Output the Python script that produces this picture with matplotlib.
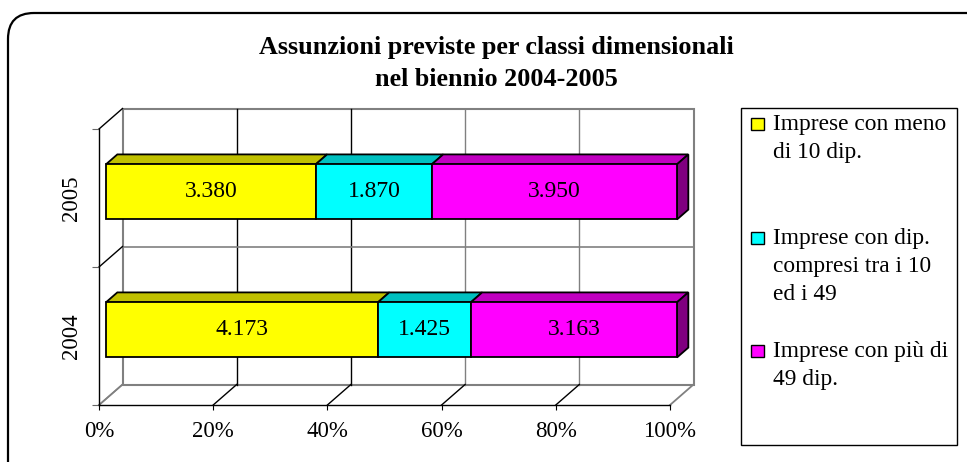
import matplotlib
matplotlib.use('Agg')
import matplotlib.pyplot as plt
from matplotlib.patches import Polygon, Rectangle, FancyBboxPatch
from matplotlib.lines import Line2D
from matplotlib.transforms import Affine2D, IdentityTransform
import numpy as np

# ---------------- data ----------------
years = ['2004', '2005']
small = [4173, 3380]     # Imprese con meno di 10 dip.
medium = [1425, 1870]    # Imprese con dip. compresi tra i 10 ed i 49
large = [3163, 3950]     # Imprese con più di 49 dip.
series = [small, medium, large]
series_labels = ["Imprese con meno\ndi 10 dip.",
                 "Imprese con dip.\ncompresi tra i 10\ned i 49",
                 "Imprese con più di\n49 dip."]
xticks = [0, 20, 40, 60, 80, 100]
xticklabels = ['0%', '20%', '40%', '60%', '80%', '100%']
title_lines = ["Assunzioni previste per classi dimensionali",
               "nel biennio 2004-2005"]

# ---------------- style ----------------
front_colors = ['#FFFF00', '#00FFFF', '#FF00FF']
top_colors = ['#C0C000', '#00C0C0', '#C000C0']
side_colors = ['#808000', '#008080', '#800080']
FONT = 'Liberation Serif'
plt.rcParams['font.family'] = [FONT, 'DejaVu Serif']

W, H = 967, 462
fig = plt.figure(figsize=(W / 100, H / 100), dpi=100)
fig.patch.set_facecolor('white')


def fx(px):
    return px / W


def fy(py):
    return 1 - py / H


ax = fig.add_axes([fx(99), fy(405), (670 - 99) / W, (405 - 129) / H])
ax.set_xlim(0, 100)
ax.set_ylim(-0.5, 1.5)
ax.patch.set_visible(False)
for s in ['top', 'right']:
    ax.spines[s].set_visible(False)
for s in ['left', 'bottom']:
    ax.spines[s].set_color('black')
    ax.spines[s].set_linewidth(1.0)

ax.set_xticks(xticks)
ax.set_xticklabels(xticklabels, fontsize=16.5)
ax.tick_params(axis='x', length=3.6, width=0.8, pad=8, direction='out')
ax.set_yticks(range(len(years)))
ax.set_yticklabels(years, fontsize=16.5, rotation=90, va='center')
ax.tick_params(axis='y', which='major', length=0, pad=12)
ax.set_yticks([-0.5, 0.5, 1.5], minor=True)
ax.tick_params(axis='y', which='minor', length=5, width=0.8, color='#666666')

D = np.array([23.5, 20.5])   # depth vector in pixels
f0, f1 = 0.30, 0.78          # bar depth range
bh = 0.4                     # bar thickness (category units)
IDT = IdentityTransform()


def P(x, y, f):
    return ax.transData.transform((x, y)) + f * D


def line(p, q, color, lw, z):
    ax.add_artist(Line2D([p[0], q[0]], [p[1], q[1]], transform=IDT,
                         color=color, lw=lw, zorder=z, clip_on=False))


GRAY = '#808080'
# back wall
wall = Polygon([P(0, -0.5, 1), P(100, -0.5, 1), P(100, 1.5, 1), P(0, 1.5, 1)],
               closed=True, transform=IDT, fc='white', ec=GRAY, lw=1.5,
               zorder=0.5, clip_on=False)
ax.add_artist(wall)
grid_cols = {20: 'black', 40: 'black', 60: GRAY, 80: GRAY}
for x in xticks[1:-1]:
    line(P(x, -0.5, 1), P(x, 1.5, 1), grid_cols[x], 1.0, 0.6)
line(P(0, 0.5, 1), P(100, 0.5, 1), GRAY, 1.2, 0.6)
# left wall diagonals
for y, c in zip([-0.5, 0.5, 1.5], [GRAY, 'black', 'black']):
    line(P(0, y, 0), P(0, y, 1), c, 1.0, 0.7)
# floor diagonals
for x in xticks:
    c = GRAY if x in (0, 100) else 'black'
    line(P(x, -0.5, 0), P(x, -0.5, 1), c, 1.0 if c == 'black' else 1.3, 0.7)

# bars
vals = np.array(series, dtype=float)
totals = vals.sum(axis=0)
pct = vals / totals * 100
front_tr = ax.transData + Affine2D().translate(*(f0 * D))
lefts = np.zeros(len(years))
for k in range(len(series)):
    ax.barh(range(len(years)), pct[k], left=lefts, height=bh,
            color=front_colors[k], edgecolor='black', linewidth=1.3,
            transform=front_tr, zorder=4, clip_on=False)
    for i in range(len(years)):
        L, R = lefts[i], lefts[i] + pct[k][i]
        top = i + bh / 2
        bot = i - bh / 2
        ax.add_artist(Polygon([P(L, top, f0), P(R, top, f0), P(R, top, f1), P(L, top, f1)],
                              closed=True, transform=IDT, fc=top_colors[k], ec='black',
                              lw=1.3, zorder=3.5, clip_on=False))
        if k == len(series) - 1:
            ax.add_artist(Polygon([P(R, bot, f0), P(R, top, f0), P(R, top, f1), P(R, bot, f1)],
                                  closed=True, transform=IDT, fc=side_colors[k], ec='black',
                                  lw=1.3, zorder=3.5, clip_on=False))
        lab = f"{int(vals[k][i]):,}".replace(',', '.')
        ax.text((L + R) / 2, i, lab, transform=front_tr, ha='center', va='center',
                fontsize=17, zorder=6)
    lefts = lefts + pct[k]

# title
fig.text(fx(496), fy(54), title_lines[0], ha='center', va='baseline',
         fontsize=18.8, fontweight='bold')
fig.text(fx(496), fy(86), title_lines[1], ha='center', va='baseline',
         fontsize=18.8, fontweight='bold')

# legend
fig.add_artist(Rectangle((741, H - 445), 957 - 741, 445 - 108, transform=IDT,
                         fill=False, ec='black', lw=1.0))
for k, lab in enumerate(series_labels):
    b0 = 130 + k * 113.5
    fig.add_artist(Rectangle((751, H - b0), 13, 12, transform=IDT,
                             fc=front_colors[k], ec='black', lw=1.0))
    for j, ln in enumerate(lab.split('\n')):
        fig.text(fx(773), fy(b0 + j * 28.3), ln, ha='left', va='baseline', fontsize=16.8)

# outer rounded frame (extends beyond the visible image on right/bottom)
fig.add_artist(FancyBboxPatch((8, -60), 1100, (H - 13) + 60,
                              boxstyle='round,pad=0,rounding_size=26',
                              transform=IDT, fill=False, ec='black', lw=1.6))

fig.savefig('out.png', dpi=100)
